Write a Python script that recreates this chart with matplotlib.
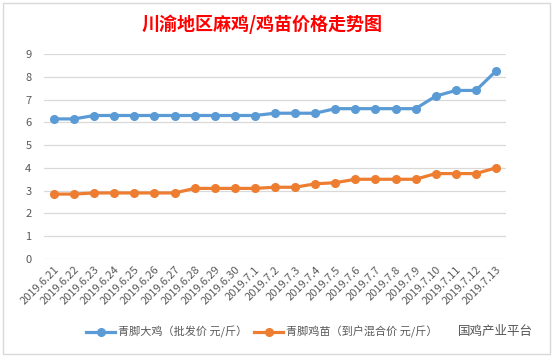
import matplotlib
matplotlib.use("Agg")
import matplotlib.pyplot as plt
from matplotlib.patches import Rectangle

plt.rcParams['font.family'] = ['Noto Sans CJK SC', 'DejaVu Sans']

dates = ["2019.6.21", "2019.6.22", "2019.6.23", "2019.6.24", "2019.6.25", "2019.6.26",
         "2019.6.27", "2019.6.28", "2019.6.29", "2019.6.30", "2019.7.1", "2019.7.2",
         "2019.7.3", "2019.7.4", "2019.7.5", "2019.7.6", "2019.7.7", "2019.7.8",
         "2019.7.9", "2019.7.10", "2019.7.11", "2019.7.12", "2019.7.13"]
big_chicken = [6.15, 6.15, 6.3, 6.3, 6.3, 6.3, 6.3, 6.3, 6.3, 6.3, 6.3, 6.4,
               6.4, 6.4, 6.6, 6.6, 6.6, 6.6, 6.6, 7.15, 7.4, 7.4, 8.25]
chick = [2.85, 2.85, 2.9, 2.9, 2.9, 2.9, 2.9, 3.1, 3.1, 3.1, 3.1, 3.15,
         3.15, 3.3, 3.35, 3.5, 3.5, 3.5, 3.5, 3.75, 3.75, 3.75, 4.0]
label_big = "青脚大鸡（批发价 元/斤）"
label_chick = "青脚鸡苗（到户混合价 元/斤）"

fig = plt.figure(figsize=(5.53, 3.57), dpi=100)
ax = fig.add_axes([44 / 553, 1 - 259 / 357, 462 / 553, 205 / 357])

x = range(len(dates))
ax.plot(x, big_chicken, color="#5B9BD5", lw=2.3, marker="o", ms=5.5, label=label_big)
ax.plot(x, chick, color="#ED7D31", lw=2.3, marker="o", ms=5.5, label=label_chick)

ax.set_xlim(-0.5, len(dates) - 0.5)
ax.set_ylim(0, 9)
ax.set_yticks(range(10))
ax.set_xticks(list(x))
ax.set_xticklabels(dates, rotation=45, ha="right", va="top", rotation_mode="anchor")
ax.tick_params(axis="both", length=0, labelsize=8, colors="#595959")
ax.tick_params(axis="y", pad=9)
ax.tick_params(axis="x", pad=4)
ax.grid(axis="y", color="#D9D9D9", lw=0.9)
ax.set_axisbelow(True)
for s in ax.spines.values():
    s.set_visible(False)

# chart border
fig.patches.append(Rectangle((3 / 553, 3 / 357), 547 / 553, 351 / 357,
                             transform=fig.transFigure, fill=False,
                             edgecolor="#D9D9D9", lw=1.0))

fig.text(262 / 553, 1 - 24 / 357, "川渝地区麻鸡/鸡苗价格走势图", color="#FF0000",
         fontsize=13, fontweight="bold", ha="center", va="center")

fig.legend(loc="center", bbox_to_anchor=(262 / 553, 1 - 332 / 357), ncol=2,
           frameon=False, fontsize=8, labelcolor="#595959", handlelength=2.6,
           columnspacing=0.6, handletextpad=0.3)

# watermark
fig.text(458 / 553, 1 - 332 / 357, "国鸡产业平台", color="#555555", fontsize=9,
         ha="left", va="center")

fig.savefig("out.png", dpi=100)
